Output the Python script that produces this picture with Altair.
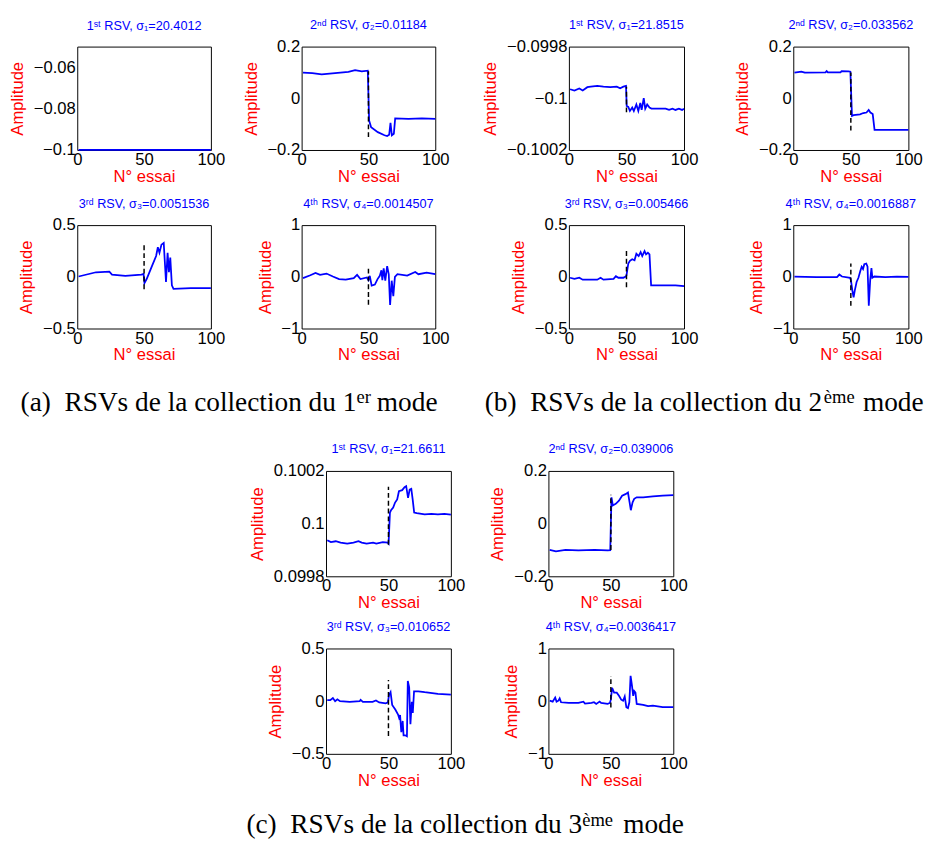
import altair as alt
import pandas as pd

# ---------------- data ----------------
X_TICKS = [0, 50, 100]

# (a) collection of mode 1
A1_X = [1, 25, 50, 51, 75, 100]
A1_Y = [-0.09998, -0.09998, -0.09998, -0.09999, -0.09999, -0.09999]
A2_X = [1, 8, 15, 25, 35, 40, 45, 49.5, 50.5, 52, 57, 62, 64, 65.5, 66.5, 67.5, 69, 70, 80, 90, 100]
A2_Y = [0.099, 0.097, 0.093, 0.097, 0.102, 0.109, 0.104, 0.107, -0.086, -0.112, -0.131, -0.143, -0.146,
        -0.141, -0.095, -0.143, -0.137, -0.078, -0.080, -0.078, -0.080]
A3_X = [1, 14, 24, 26, 36, 48, 49.6, 50.3, 52, 55.5, 59, 60.3, 61.5, 63, 64.7, 66.4, 67.6, 68.6, 69.6,
        70.8, 72, 85, 100]
A3_Y = [0.003, 0.044, 0.05, 0.022, 0.01, 0.022, 0.028, -0.06, -0.019, 0.091, 0.201, 0.286, 0.233, 0.311,
        0.327, -0.05, 0.233, 0.044, 0.186, -0.082, -0.116, -0.11, -0.11]
A4_X = [1, 6.5, 10.4, 13.8, 18.6, 23.4, 28, 33, 39, 41.5, 44, 48.8, 50, 51, 52.4, 54.8, 56.8, 58.5, 59.7,
        60.4, 61.4, 62.6, 64, 65.2, 66.2, 67.4, 68.6, 69.8, 71.7, 79, 85, 87.4, 93.5, 100]
A4_Y = [-0.025, 0.031, 0.075, 0.038, 0.063, 0.006, -0.044, -0.056, -0.025, 0.038, -0.044, -0.013, -0.063,
        0.019, -0.169, -0.15, -0.044, 0.019, 0.125, -0.063, 0.163, -0.075, 0.206, 0.05, -0.544, -0.075,
        -0.375, 0.0, 0.05, 0.025, 0.094, 0.05, 0.081, 0.05]

# (b) collection of mode 2
B1_X = [1, 4.8, 9, 12, 16, 19, 24.6, 30, 36, 41.6, 44.5, 47.3, 49.6, 50.2, 51.6, 53, 55, 56.4, 58.6, 60.3,
        62, 63.2, 65, 66.3, 68, 70, 71.7, 84, 87, 90, 92.6, 95.5, 98.3, 100]
B1_Y = [-0.099965, -0.09997, -0.099962, -0.09997, -0.099957, -0.099955, -0.099952, -0.099955, -0.099957,
        -0.099955, -0.099961, -0.099955, -0.099952, -0.10003, -0.100033, -0.100049, -0.100036, -0.100049,
        -0.100024, -0.100049, -0.100018, -0.100045, -0.099999, -0.10004, -0.100024, -0.100036, -0.10004,
        -0.10004, -0.100045, -0.10004, -0.100045, -0.10004, -0.100045, -0.10004]
B2_X = [1, 7, 10, 28, 29, 30, 41, 42, 48, 49.6, 51, 52.4, 58, 60.8, 63.6, 65.5, 67, 69, 70.6, 100]
B2_Y = [0.099, 0.103, 0.099, 0.1, 0.105, 0.1, 0.1, 0.105, 0.104, 0.103, -0.068, -0.065, -0.062, -0.057,
        -0.055, -0.045, -0.055, -0.061, -0.122, -0.122]
B3_X = [1, 4.8, 9, 12, 24.6, 27.5, 30, 38.8, 40.8, 43, 47.3, 49.3, 50, 51.6, 53, 55, 57, 58.6, 60.6, 62.3,
        63.7, 65.7, 67, 68.6, 70, 71.4, 92.6, 100]
B3_Y = [-0.009, -0.019, -0.009, -0.028, -0.028, -0.009, -0.028, -0.019, 0.006, -0.009, -0.009, 0.003,
        0.013, 0.129, 0.154, 0.17, 0.16, 0.223, 0.201, 0.239, 0.201, 0.248, 0.217, 0.233, 0.217, -0.082,
        -0.082, -0.091]
B4_X = [1, 20, 38, 40, 42.3, 49.3, 50.1, 51.5, 52.4, 53.5, 55, 56.6, 58.3, 59.4, 60.6, 61.7, 63.4, 64.5,
        65.6, 66.8, 67.9, 68.7, 70.4, 80, 90, 100]
B4_Y = [0.006, -0.006, -0.006, 0.044, 0.006, -0.019, -0.069, -0.289, -0.396, -0.258, -0.1, -0.019, 0.119,
        0.195, 0.151, 0.245, 0.258, 0.195, -0.56, -0.069, 0.17, -0.019, 0.006, -0.006, 0.006, 0.0]

# (c) collection of mode 3
C1_X = [1, 3.9, 7.8, 11.7, 17, 22, 26, 28.6, 32.5, 37.7, 40.3, 45.5, 49.4, 50.1, 51.2, 52.2, 53.8, 55.3,
        57, 58.4, 61, 62.9, 64.2, 65.7, 67, 68.3, 69.4, 70.6, 72.7, 79, 84.4, 89.6, 94.8, 100]
C1_Y = [0.099937, 0.09993, 0.099933, 0.099928, 0.099924, 0.099928, 0.099933, 0.099928, 0.099924,
        0.099928, 0.099924, 0.09993, 0.099928, 0.099924, 0.100042, 0.100052, 0.100061, 0.10008, 0.100092,
        0.100123, 0.100127, 0.100138, 0.100142, 0.100098, 0.100129, 0.100132, 0.100092, 0.100042,
        0.10004, 0.100035, 0.100037, 0.100035, 0.100037, 0.100034]
C2_X = [1, 6, 13.7, 24, 37, 47.4, 49.5, 50.5, 51.6, 53.9, 56.5, 59, 61.7, 63.7, 65, 66, 67.4, 68.7, 70.7,
        75.9, 83.7, 91.5, 100]
C2_Y = [-0.1, -0.105, -0.1, -0.102, -0.1, -0.102, -0.101, 0.1, 0.069, 0.075, 0.087, 0.106, 0.112, 0.118,
        0.081, 0.051, 0.081, 0.094, 0.1, 0.1, 0.103, 0.106, 0.108]
C3_X = [1, 3.4, 5.5, 7.3, 9.1, 11.2, 19, 27, 27.7, 29.5, 37.3, 40, 42.6, 47.8, 49.6, 50.4, 51.7, 53, 55.6,
        57.7, 58.5, 59.3, 60.3, 61.4, 62.1, 63.4, 64.8, 65.5, 66.6, 67.6, 68.7, 69.5, 70.5, 73.9, 79, 89.6,
        100]
C3_Y = [0.009, 0.009, 0.03, 0.0, 0.018, 0.0, -0.006, 0.0, 0.012, -0.006, -0.006, 0.006, -0.012, -0.021,
        -0.012, 0.055, 0.085, -0.036, -0.082, -0.127, -0.158, -0.133, -0.294, -0.188, -0.324, -0.324,
        -0.333, 0.191, 0.13, -0.218, -0.006, -0.112, 0.094, 0.094, 0.085, 0.07, 0.061]
C4_X = [1, 3.4, 5.4, 6.5, 8, 9, 10.1, 16.3, 24, 28, 29.3, 34.5, 36.5, 38.3, 41, 42.2, 47.4, 49.2, 50, 51,
        52.6, 54.7, 56.5, 58.3, 59.8, 61.1, 62.4, 63.7, 64.8, 65.8, 66.8, 67.9, 68.7, 69.7, 70.7, 75.9,
        79.8, 83.7, 91.5, 100]
C4_Y = [0.009, -0.009, 0.07, -0.009, 0.009, 0.052, -0.021, -0.034, -0.034, -0.009, -0.046, -0.034, -0.021,
        -0.052, -0.009, -0.034, -0.052, -0.034, 0.028, 0.254, 0.162, 0.162, 0.101, 0.028, 0.009, 0.089,
        -0.113, -0.131, -0.021, 0.48, 0.315, 0.101, 0.193, 0.162, -0.052, -0.07, -0.095, -0.083, -0.113,
        -0.113]

# dashed marker at trial 50 : [low, high]
DASH = {
    "a2": [-0.15, 0.105], "a3": [-0.12, 0.33], "a4": [-0.54, 0.16],
    "b1": [-0.100054, -0.099955], "b2": [-0.125, 0.1], "b3": [-0.1, 0.25], "b4": [-0.56, 0.26],
    "c1": [0.09992, 0.10014], "c2": [-0.1, 0.11], "c3": [-0.33, 0.2], "c4": [-0.12, 0.48],
}

# y domains and y ticks
Y_DOM = {
    "a1": [-0.1, -0.05], "a2": [-0.2, 0.2], "a3": [-0.5, 0.5], "a4": [-1, 1],
    "b1": [-0.1002, -0.0998], "b2": [-0.2, 0.2], "b3": [-0.5, 0.5], "b4": [-1, 1],
    "c1": [0.0998, 0.1002], "c2": [-0.2, 0.2], "c3": [-0.5, 0.5], "c4": [-1, 1],
}
Y_TICKS = {
    "a1": [-0.1, -0.08, -0.06], "a2": [-0.2, 0, 0.2], "a3": [-0.5, 0, 0.5], "a4": [-1, 0, 1],
    "b1": [-0.1002, -0.1, -0.0998], "b2": [-0.2, 0, 0.2], "b3": [-0.5, 0, 0.5], "b4": [-1, 0, 1],
    "c1": [0.0998, 0.1, 0.1002], "c2": [-0.2, 0, 0.2], "c3": [-0.5, 0, 0.5], "c4": [-1, 0, 1],
}
TITLES = {
    "a1": "1ˢᵗ RSV, σ₁=20.4012", "a2": "2ⁿᵈ RSV, σ₂=0.01184",
    "a3": "3ʳᵈ RSV, σ₃=0.0051536", "a4": "4ᵗʰ RSV, σ₄=0.0014507",
    "b1": "1ˢᵗ RSV, σ₁=21.8515", "b2": "2ⁿᵈ RSV, σ₂=0.033562",
    "b3": "3ʳᵈ RSV, σ₃=0.005466", "b4": "4ᵗʰ RSV, σ₄=0.0016887",
    "c1": "1ˢᵗ RSV, σ₁=21.6611", "c2": "2ⁿᵈ RSV, σ₂=0.039006",
    "c3": "3ʳᵈ RSV, σ₃=0.010652", "c4": "4ᵗʰ RSV, σ₄=0.0036417",
}
NB = "\u00a0"
# caption text with a gap left for the superscript, and the superscript itself
CAPTIONS = [
    "(a)" + NB * 2 + "RSVs de la collection du 1" + NB * 2 + " mode",
    "(b)" + NB * 2 + "RSVs de la collection du 2" + NB * 5 + " mode",
    "(c)" + NB * 2 + "RSVs de la collection du 3" + NB * 5 + " mode",
]
CAPTION_SUPS = ["er", "ème", "ème"]

SERIES = {
    "a1": (A1_X, A1_Y), "a2": (A2_X, A2_Y), "a3": (A3_X, A3_Y), "a4": (A4_X, A4_Y),
    "b1": (B1_X, B1_Y), "b2": (B2_X, B2_Y), "b3": (B3_X, B3_Y), "b4": (B4_X, B4_Y),
    "c1": (C1_X, C1_Y), "c2": (C2_X, C2_Y), "c3": (C3_X, C3_Y), "c4": (C4_X, C4_Y),
}

BLUE = "#0000ff"
SANS = "Liberation Sans"
SERIF = "Liberation Serif"


def panel(key, w, h):
    xs, ys = SERIES[key]
    df = pd.DataFrame({"x": xs, "y": ys})
    xsc = alt.Scale(domain=[0, 100], nice=False, zero=False)
    ysc = alt.Scale(domain=Y_DOM[key], nice=False, zero=False)
    xax = alt.Axis(values=X_TICKS, title="N° essai", format="d")
    yax = alt.Axis(values=Y_TICKS[key], title="Amplitude", format="~g")
    line = alt.Chart(df).mark_line(color=BLUE, strokeWidth=1.8).encode(
        x=alt.X("x:Q", scale=xsc, axis=xax),
        y=alt.Y("y:Q", scale=ysc, axis=yax),
    )
    layers = [line]
    if key in DASH:
        lo, hi = DASH[key]
        ddf = pd.DataFrame({"x": [50], "y": [lo], "y2": [hi]})
        rule = alt.Chart(ddf).mark_rule(color="black", strokeDash=[5, 3], strokeWidth=1.5).encode(
            x=alt.X("x:Q", scale=xsc, axis=xax),
            y=alt.Y("y:Q", scale=ysc, axis=yax),
            y2="y2:Q",
        )
        layers.append(rule)
    # the title offset is measured from the top of the axis labels
    top_label = Y_TICKS[key][-1] == Y_DOM[key][1]
    return alt.layer(*layers).properties(
        width=w, height=h,
        title=alt.TitleParams(TITLES[key], fontSize=13, color=BLUE, font=SANS, fontWeight="normal",
                              offset=6 if top_label else 14, anchor="middle", frame="group"),
    )


def caption(text, offset, dx):
    return alt.TitleParams(text, orient="bottom", anchor="middle", frame="bounds", font=SERIF,
                           fontSize=28, fontWeight="normal", color="black", offset=offset, dx=dx)


def sup(text, dx):
    return alt.TitleParams(text, orient="bottom", anchor="middle", frame="bounds", font=SERIF,
                           fontSize=19, fontWeight="normal", color="black", offset=-29, dx=dx)


def group(keys, w, h, col_sp, row_sp, cap, sp):
    inner = alt.concat(*[panel(k, w, h) for k in keys], columns=2,
                       spacing={"row": row_sp, "column": col_sp},
                       title=cap).resolve_scale(x="independent", y="independent")
    return alt.vconcat(inner, title=sp).resolve_scale(x="independent", y="independent")


groupA = group(["a1", "a2", "a3", "a4"], 137, 106, 16, 12,
               caption(CAPTIONS[0], 27, 0), sup(CAPTION_SUPS[0], 138))
groupB = group(["b1", "b2", "b3", "b4"], 118, 106, 35, 12,
               caption(CAPTIONS[1], 27, 2), sup(CAPTION_SUPS[1], 140))
groupC = group(["c1", "c2", "c3", "c4"], 128, 108, 23, 9,
               caption(CAPTIONS[2], 24, -3), sup(CAPTION_SUPS[2], 134))

spacer = alt.Chart(pd.DataFrame({"v": [0]})).mark_point(opacity=0).encode(
    x=alt.value(0), y=alt.value(0)
).properties(width=172, height=1, view=alt.ViewBackground(stroke="transparent"))

rowAB = alt.hconcat(groupA, groupB, spacing=32).resolve_scale(x="independent", y="independent")
rowC = alt.hconcat(spacer, groupC, spacing=0).resolve_scale(x="independent", y="independent")

chart = alt.vconcat(rowAB, rowC, spacing=26).resolve_scale(
    x="independent", y="independent"
).properties(
    padding={"left": 0, "top": 0, "right": 0, "bottom": 0},
    background="white",
).configure_view(
    stroke="black", strokeWidth=1
).configure_axis(
    domain=False, ticks=False, tickSize=0, grid=False, labelFlush=False,
    labelFont=SANS, labelFontSize=17, labelColor="black", labelPadding=2,
    titleFont=SANS, titleFontSize=17, titleColor="red", titleFontWeight="normal",
).configure_axisX(titlePadding=1).configure_axisY(titlePadding=7)

chart.save("out.html", embed_options={"renderer": "svg", "actions": False})
